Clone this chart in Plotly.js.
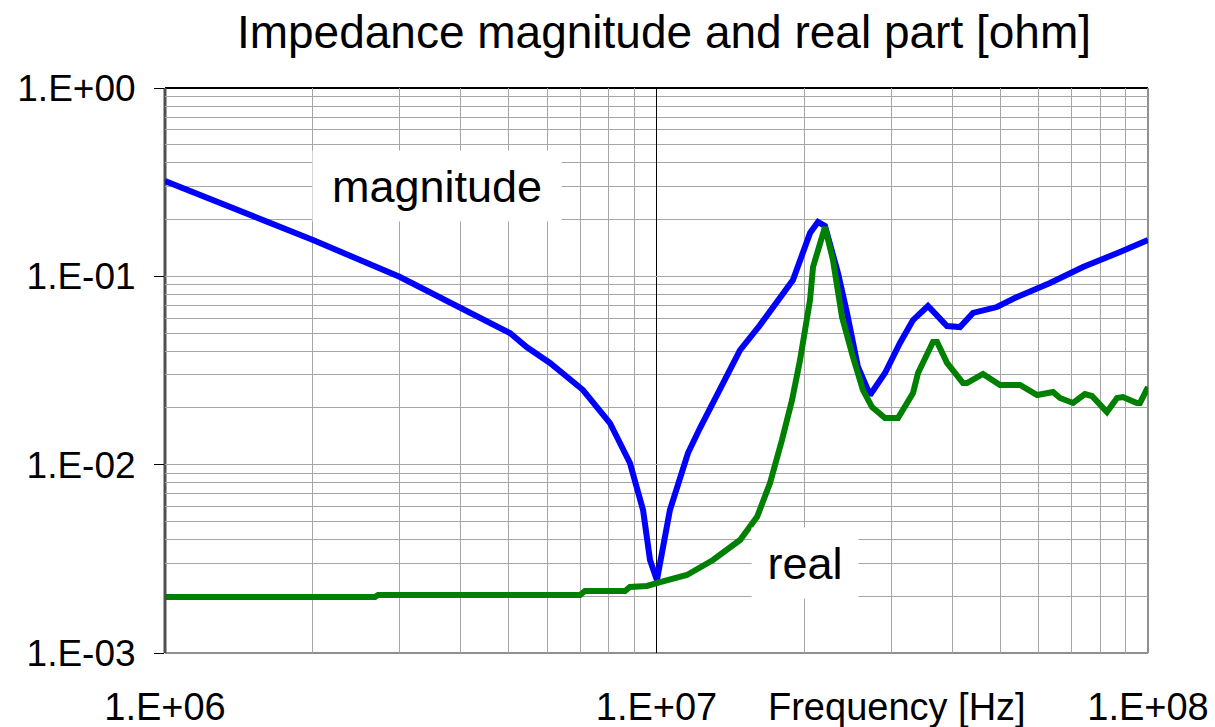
<!DOCTYPE html>
<html>
<head>
<meta charset="utf-8">
<script src="https://cdn.plot.ly/plotly-3.0.1.min.js"></script>
<style>html,body{margin:0;padding:0;background:#fff;}#chart{width:1215px;height:727px;}</style>
</head>
<body>
<div id="chart"></div>
<script>
// Frequencies [Hz] and impedance [ohm]
const magFreq = [1.00e6,1.421e6,2.0e6,3.007e6,3.983e6,5.033e6,5.45e6,6.072e6,7.088e6,8.04e6,8.83e6,9.39e6,9.70e6,10.02e6,10.65e6,11.16e6,11.59e6,12.26e6,13.15e6,14.79e6,16.24e6,18.95e6,20.53e6,21.31e6,22.02e6,23.40e6,24.41e6,25.70e6,27.19e6,29.17e6,31.29e6,33.26e6,35.67e6,39.00e6,41.45e6,44.05e6,49.28e6,54.13e6,63.19e6,73.76e6,87.7e6,100e6];
const magValue = [0.321,0.2223,0.1559,0.0992,0.0687,0.0500,0.0420,0.0347,0.0249,0.01664,0.01021,0.00574,0.00312,0.00244,0.00574,0.00829,0.01153,0.01565,0.02204,0.0406,0.0551,0.0956,0.1699,0.1943,0.1850,0.1042,0.0639,0.0330,0.02344,0.03066,0.04426,0.0586,0.0696,0.0545,0.0538,0.0639,0.0687,0.0777,0.0922,0.1121,0.1346,0.1559];

const realFreq = [1.00e6,2.675e6,2.713e6,6.99e6,7.15e6,8.63e6,8.83e6,9.56e6,10.17e6,11.53e6,13.03e6,14.79e6,16.02e6,17.02e6,18.00e6,18.87e6,19.59e6,20.53e6,20.82e6,22.02e6,22.86e6,23.85e6,25.10e6,26.31e6,27.45e6,29.17e6,31.0e6,33.26e6,34.05e6,36.52e6,37.22e6,39.00e6,42.04e6,42.83e6,46.15e6,50.0e6,54.9e6,59.5e6,64.1e6,66.2e6,70.4e6,74.4e6,76.9e6,82.5e6,86.5e6,88.9e6,94.9e6,96.3e6,100e6];
const realValue = [0.001983,0.001983,0.002032,0.002032,0.002134,0.002134,0.002241,0.00227,0.002381,0.002595,0.003117,0.00398,0.00528,0.00799,0.01352,0.02204,0.0359,0.0749,0.1121,0.1827,0.1221,0.0608,0.0373,0.0249,0.02023,0.01769,0.01769,0.0240,0.0307,0.0448,0.0448,0.0347,0.0271,0.0271,0.0303,0.0265,0.0265,0.02344,0.0243,0.0226,0.02126,0.0237,0.02315,0.01904,0.0226,0.02287,0.02126,0.02126,0.02585];

const xTickVals = [1e6, 1e7, 1e8];
const xTickText = ['1.E+06', '1.E+07', '1.E+08'];
const yTickVals = [1e-3, 1e-2, 1e-1, 1];
const yTickText = ['1.E-03', '1.E-02', '1.E-01', '1.E+00'];

const titleText = 'Impedance magnitude and real part [ohm]';
const xTitleText = 'Frequency [Hz]';
const magLabel = 'magnitude';
const realLabel = 'real';

const FONT = '"Liberation Sans", Arial, sans-serif';

const traces = [
  {x: magFreq, y: magValue, type: 'scatter', mode: 'lines', name: magLabel,
   line: {color: '#0000FF', width: 6}, hoverinfo: 'skip'},
  {x: realFreq, y: realValue, type: 'scatter', mode: 'lines', name: realLabel,
   line: {color: '#008000', width: 6}, hoverinfo: 'skip'}
];

const gridMinor = {tickmode: 'linear', tick0: 0, dtick: 'D1', showgrid: true, gridcolor: '#a6a6a6', gridwidth: 1, ticks: ''};

const layout = {
  width: 1215, height: 727,
  paper_bgcolor: '#ffffff', plot_bgcolor: '#ffffff',
  margin: {l: 165, r: 67, t: 88, b: 74, pad: 0},
  showlegend: false,
  font: {family: FONT, color: '#000'},
  title: {text: titleText, font: {family: FONT, size: 46, color: '#000'},
          xref: 'paper', x: 0.5076, xanchor: 'center', yref: 'container', y: 1 - 32/727, yanchor: 'middle'},
  xaxis: {
    type: 'log', range: [6, 8],
    tickmode: 'array', tickvals: xTickVals, ticktext: xTickText,
    tickfont: {family: FONT, size: 38, color: '#000'},
    ticks: 'outside', ticklen: 0, tickcolor: 'rgba(0,0,0,0)', ticklabelstandoff: 20,
    showgrid: true, gridcolor: '#000000', gridwidth: 1,
    minor: gridMinor,
    showline: false, zeroline: false, fixedrange: true
  },
  yaxis: {
    type: 'log', range: [-3, 0],
    tickmode: 'array', tickvals: yTickVals, ticktext: yTickText,
    tickfont: {family: FONT, size: 37, color: '#000'},
    ticks: 'outside', ticklen: 10, tickwidth: 1, tickcolor: '#000', ticklabelstandoff: 11,
    showgrid: true, gridcolor: '#a6a6a6', gridwidth: 1,
    minor: gridMinor,
    showline: false, zeroline: false, fixedrange: true
  },
  shapes: [
    {type: 'line', xref: 'paper', yref: 'paper', x0: 0, x1: 1, y0: 1, y1: 1, line: {color: '#000', width: 2}, layer: 'below'},
    {type: 'line', xref: 'paper', yref: 'paper', x0: 0, x1: 1, y0: 0, y1: 0, line: {color: '#909090', width: 2}, layer: 'below'},
    {type: 'line', xref: 'paper', yref: 'paper', x0: 1, x1: 1, y0: 0, y1: 1, line: {color: '#909090', width: 2}, layer: 'below'},
    {type: 'line', xref: 'paper', yref: 'paper', x0: 0, x1: 0, y0: 0, y1: 1, line: {color: '#505050', width: 3}, layer: 'below'}
  ],
  annotations: [
    {text: magLabel, xref: 'paper', yref: 'paper', x: 0.2767, y: 0.8265, xanchor: 'center', yanchor: 'middle',
     showarrow: false, bgcolor: '#ffffff', width: 244, height: 66, borderpad: 2,
     font: {family: FONT, size: 45, color: '#000'}},
    {text: realLabel, xref: 'paper', yref: 'paper', x: 0.651, y: 0.1593, xanchor: 'center', yanchor: 'middle',
     showarrow: false, bgcolor: '#ffffff', width: 102, height: 66, borderpad: 2,
     font: {family: FONT, size: 45, color: '#000'}},
    {text: xTitleText, xref: 'paper', yref: 'paper', x: 0.7447, y: -0.0956, xanchor: 'center', yanchor: 'middle',
     showarrow: false, font: {family: FONT, size: 38, color: '#000'}}
  ]
};

Plotly.newPlot('chart', traces, layout, {staticPlot: true, displayModeBar: false});
</script>
</body>
</html>
